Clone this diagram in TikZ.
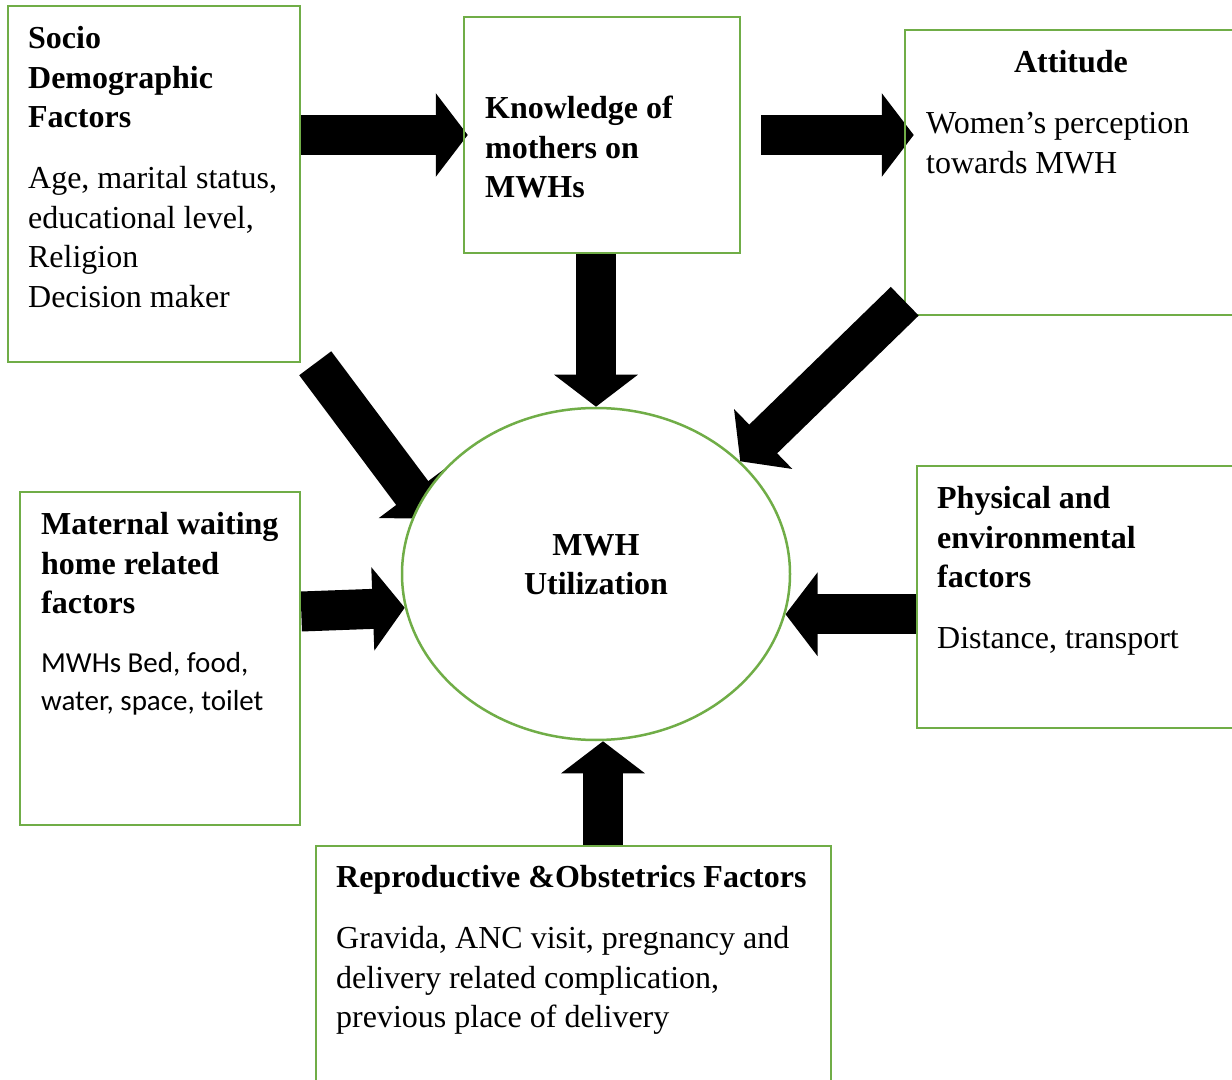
\documentclass[tikz,border=0pt]{standalone}
\usepackage{fontspec}
\setmainfont{Liberation Serif}
\setsansfont{Carlito}
\usetikzlibrary{calc}
\usetikzlibrary{arrows.meta}
\usetikzlibrary{shapes.geometric}
\usetikzlibrary{backgrounds}
\definecolor{boxgreen}{RGB}{112,173,71}
\tikzset{
  fbox/.style={draw=boxgreen, line width=1.25pt, rectangle, inner sep=0pt},
  hubbox/.style={draw=boxgreen, fill=white, line width=1.25pt, ellipse, inner sep=0pt},
  hdtext/.style={font=\bfseries\fontsize{16}{19.75}\selectfont, align=left, inner sep=0pt, anchor=base west},
  bdtext/.style={font=\fontsize{16}{19.75}\selectfont, align=left, inner sep=0pt, anchor=base west},
  sftext/.style={font=\sffamily\fontsize{14.5}{19}\selectfont, align=left, inner sep=0pt, anchor=base west},
  fatarrow/.style={line width=20pt, -{Triangle[length=16pt,width=41pt]}},
}

\begin{document}
\begin{tikzpicture}[x=0.5pt,y=-0.5pt]
\useasboundingbox (0,0) rectangle (1232,1080);

%%%%%%%%%%%%%%%%%%%%%%%%%%%%%%%%%%%%%%%%%%%%%%%%%%%%%%%%%%%%%% boxes
\node[fbox, minimum width=146pt, minimum height=178pt] (socio) at (154,184) {};
\node[fbox, minimum width=138pt, minimum height=118pt] (know) at (602,135) {};
\node[fbox, minimum width=166pt, minimum height=142.5pt] (att) at (1071,172.5) {};
\node[fbox, minimum width=140pt, minimum height=166.5pt] (matern) at (160,658.5) {};
\node[fbox, minimum width=164pt, minimum height=131pt] (phys) at (1081,597) {};
\node[fbox, minimum width=257.5pt, minimum height=124.5pt] (repro) at (573.5,970.5) {};
\node[hubbox, minimum width=194pt, minimum height=166pt] (hub) at (596,574) {};

%%%%%%%%%%%%%%%%%%%%%%%%%%%%%%%%%%%%%%%%%%%%%%%%%%%%%%%%%%%%%% arrows
\begin{scope}[on background layer]
\draw[fatarrow] (socio.east |- know.west) -- ($(know.west)+(5,0)$);
\draw[fatarrow] ($(know.east)+(20,0)$) -- ($(know.east -| att.west)+(10,0)$);
\draw[fatarrow] (hub.north |- know.south) -- (hub.north);
\draw[fatarrow, shorten >=-10pt] ($(socio.south east)+(14,0)$) -- (hub.158);
\draw[fatarrow] ($(matern.east)+(0,-47)$) -- (hub.190);
\draw[fatarrow] (hub.-12 -| phys.west) -- (hub.-12);
\draw[fatarrow] ($(repro.north)+(29.5,0)$) -- ($(hub.south)+(7,0)$);
\end{scope}
\draw[fatarrow] ($(att.south west)+(1,-15)$) -- (hub.38);

%%%%%%%%%%%%%%%%%%%%%%%%%%%%%%%%%%%%%%%%%%%%%%%%%%%%%%%%%%%%%% texts
% (base = last line)
\node[hdtext] (sociot) at ($(socio.north west)+(21,123)$) {Socio\\Demographic\\Factors};
\node[bdtext] (sociob) at ($(socio.north west)+(21,302.5)$) {Age, marital status,\\educational level,\\Religion\\Decision maker};

\node[hdtext] (knowt) at ($(know.north west)+(22,182)$) {Knowledge of\\mothers on\\MWHs};

\node[hdtext, anchor=base] (attt) at ($(att.north)+(0,44)$) {Attitude};
\node[bdtext] (attb) at ($(att.north west)+(22,144.5)$) {Women’s perception\\towards MWH};

\node[hdtext, align=center, anchor=base] (hubt) at ($(hub.center)+(0,21)$) {MWH\\Utilization};

\node[hdtext] (maternt) at ($(matern.north west)+(22,123)$) {Maternal waiting\\home related\\factors};
\node[sftext] (maternb) at ($(matern.north west)+(22,220)$) {MWHs Bed, food,\\water, space, toilet};

\node[hdtext] (physt) at ($(phys.north west)+(21,123)$) {Physical and\\environmental\\factors};
\node[bdtext] (physb) at ($(phys.north west)+(21,184)$) {Distance, transport};

\node[hdtext] (reprot) at ($(repro.north west)+(21,43)$) {Reproductive \&Obstetrics Factors};
\node[bdtext] (reprob) at ($(repro.north west)+(21,183)$) {Gravida, ANC visit, pregnancy and\\delivery related complication,\\previous place of delivery};

\end{tikzpicture}
\end{document}
